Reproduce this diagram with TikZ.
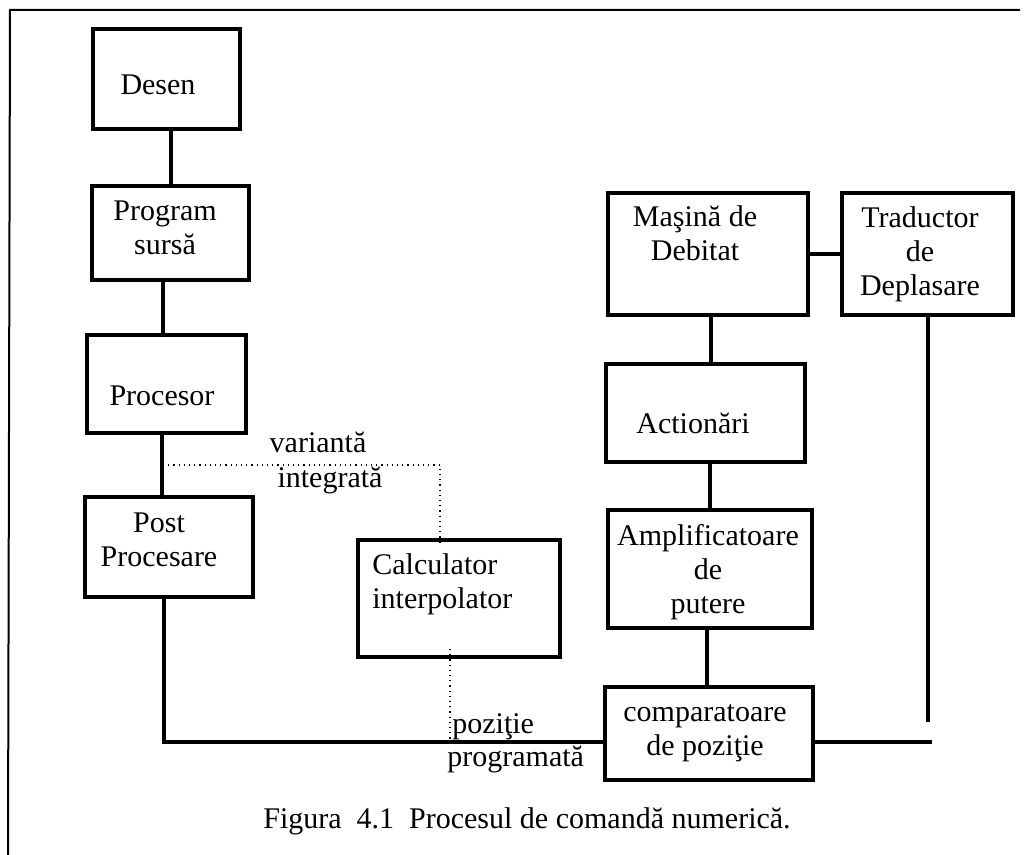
\documentclass[tikz,border=0pt]{standalone}
\usepackage{fontspec}
\setmainfont{Liberation Serif}
\usetikzlibrary{fit}
\tikzset{
  box/.style={draw, line width=2pt, inner sep=0pt},
  txt/.style={inner sep=0pt, font=\fontsize{15}{17}\selectfont},
  fir/.style={line width=2pt},
  punct/.style={dotted, line width=0.6pt}
}
\begin{document}
\begin{tikzpicture}[x=0.5pt, y=-0.5pt]
\useasboundingbox (0,0) rectangle (1032,855);
% rama
\draw[line width=1pt] (8,855) -- (10,10) -- (1020,10);

% coloana din stanga
\node[box, fit={(93,29) (240,129)}] (desen) {};
\node[txt, anchor=base] at (158,95) {Desen};
\node[box, fit={(92,186) (249,280)}] (program) {};
\node[txt, align=center] at (165,228) {Program\\sursă};
\node[box, fit={(87,335) (246,433)}] (procesor) {};
\node[txt, anchor=base] at (162,405) {Procesor};
\node[box, fit={(85,497) (253,597)}] (post) {};
\node[txt, align=center] at (159,540) {Post\\Procesare};
\node[box, fit={(358,540) (560,657)}] (calc) {};
\node[txt, align=left, anchor=west] at (372,584) {Calculator\\interpolator};

% coloana din dreapta
\node[box, fit={(608,193) (808,315)}] (masina) {};
\node[txt, align=center] at (695,233) {Maşină de\\Debitat};
\node[box, fit={(842,193) (1013,315)}] (traductor) {};
\node[txt, align=center] at (920,254) {Traductor\\de\\Deplasare};
\node[box, fit={(606,364) (805,462)}] (actionari) {};
\node[txt, anchor=base] at (693,433) {Actionări};
\node[box, fit={(608,510) (812,628)}] (ampl) {};
\node[txt, align=center] at (708,572) {Amplificatoare\\de\\putere};
\node[box, fit={(605,687) (813,780)}] (comp) {};
\node[txt, align=center] at (705,733) {comparatoare\\de poziţie};

% etichete
\node[txt, anchor=base] (varianta) at (318,452) {variantă};
\node[txt, anchor=base] (integrata) at (330,487) {integrată};
\node[txt, anchor=base west] (pozitie) at (452,733) {poziţie};
\node[txt, anchor=base west] (programata) at (447,766) {programată};
\node[txt, anchor=base] (figura) at (527,828) {Figura\ \ 4.1\ \ Procesul de comandă numerică.};

\coordinate (ramura) at (163,465);
\coordinate (capat) at (932,742);
\coordinate (capsus) at (928,722);

% legaturi
\draw[fir] (program.north) -- (program.north |- desen.south);
\draw[fir] ([xshift=-1.75pt]procesor.north) -- ([xshift=-1.75pt]procesor.north |- program.south);
\draw[fir] ([xshift=-2.25pt]procesor.south) -- ([xshift=-2.25pt]procesor.south |- post.north);
\draw[fir] ([xshift=-2.5pt]post.south) |- ([yshift=-4.25pt]comp.west);
\draw[fir] ([yshift=-4.25pt]comp.east) -- (capat);
\draw[fir] (traductor.south) -- (traductor.south |- capsus);
\draw[fir] (masina.east) -- (traductor.west);
\draw[fir] ([xshift=1.5pt]masina.south) -- ([xshift=1.5pt]masina.south |- actionari.north);
\draw[fir] (ampl.north) -- (ampl.north |- actionari.south);
\draw[fir] ([xshift=-1pt]comp.north) -- ([xshift=-1pt]comp.north |- ampl.south);
\draw[punct] (ramura) -| ([xshift=-9.5pt,yshift=-2.5pt]calc.north);
\draw[punct] ([xshift=-4.5pt,yshift=5pt]calc.south) -- ([xshift=-4.5pt,yshift=-2pt]calc.south |- capat);
\end{tikzpicture}
\end{document}
